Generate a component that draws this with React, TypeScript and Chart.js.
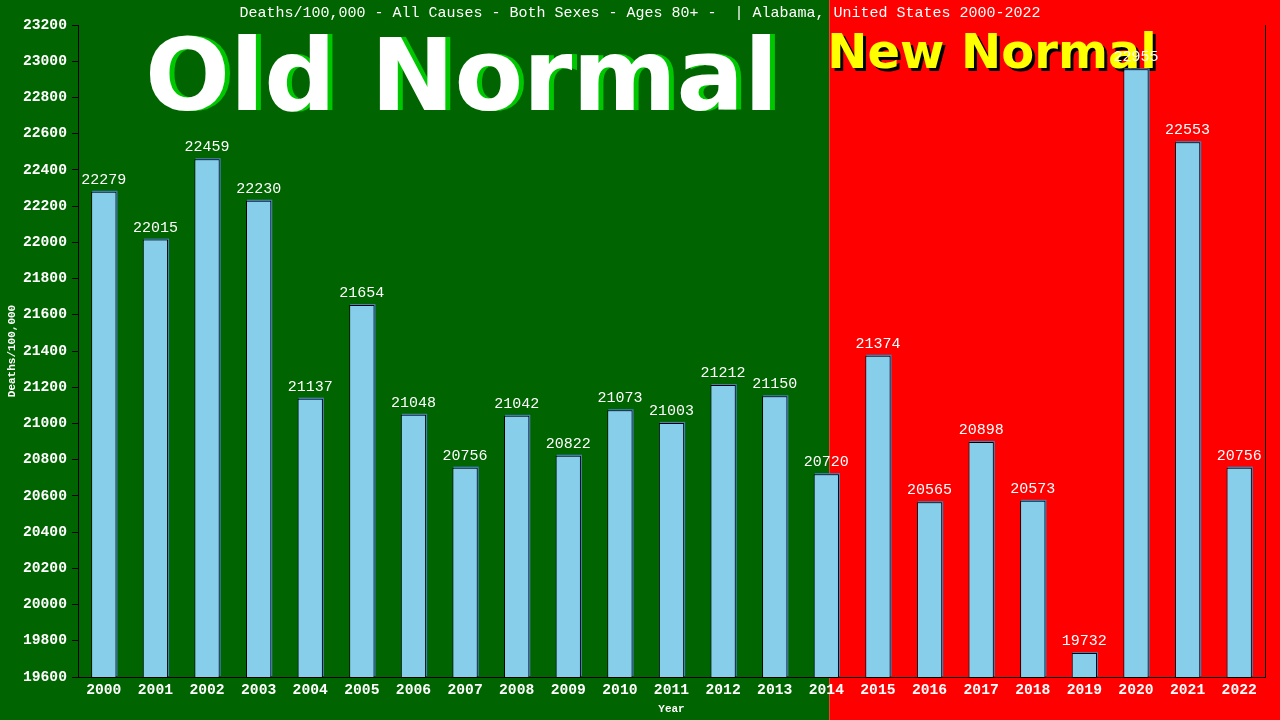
import { useEffect, useRef } from "react";
import { Chart, registerables } from "chart.js";

Chart.register(...registerables);

const years = [
  "2000", "2001", "2002", "2003", "2004", "2005", "2006", "2007", "2008", "2009", "2010", "2011",
  "2012", "2013", "2014", "2015", "2016", "2017", "2018", "2019", "2020", "2021", "2022",
];
const deaths = [
  22279, 22015, 22459, 22230, 21137, 21654, 21048, 20756, 21042, 20822, 21073, 21003,
  21212, 21150, 20720, 21374, 20565, 20898, 20573, 19732, 22955, 22553, 20756,
];
const yMin = 19600;
const yMax = 23200;
const yStep = 200;
const titleText = "Deaths/100,000 - All Causes - Both Sexes - Ages 80+ -  | Alabama, United States 2000-2022";
const yTitle = "Deaths/100,000";
const xTitle = "Year";
const oldLabel = "Old Normal";
const newLabel = "New Normal";
const splitIndex = 14;

const MONO = "'Liberation Mono', 'DejaVu Sans Mono', monospace";
const SANS = "'DejaVu Sans', sans-serif";

function splitX(chart: any): number {
  return chart.scales.x.getPixelForValue(splitIndex) + 3;
}

const decorPlugin = {
  id: "decor",
  beforeDraw(chart: any) {
    const { ctx, width, height } = chart;
    const s = splitX(chart);
    ctx.save();
    ctx.fillStyle = "#006400";
    ctx.fillRect(0, 0, s, height);
    ctx.fillStyle = "#ff0000";
    ctx.fillRect(s, 0, width - s, height);
    ctx.fillStyle = "#ffffff";
    ctx.font = `15px ${MONO}`;
    ctx.textAlign = "center";
    ctx.textBaseline = "middle";
    ctx.fillText(titleText, width / 2, 13);
    ctx.restore();
  },
  beforeDatasetsDraw(chart: any) {
    const { ctx, chartArea } = chart;
    const s = splitX(chart);
    ctx.save();
    // right border of plot
    ctx.strokeStyle = "#000000";
    ctx.lineWidth = 1;
    ctx.beginPath();
    ctx.moveTo(Math.round(chartArea.right) + 0.5, chartArea.top);
    ctx.lineTo(Math.round(chartArea.right) + 0.5, chartArea.bottom);
    ctx.stroke();
    ctx.textAlign = "left";
    ctx.textBaseline = "alphabetic";
    ctx.font = `bold 100px ${SANS}`;
    ctx.fillStyle = "#00c800";
    ctx.fillText(oldLabel, chartArea.left + 72, chartArea.top + 85);
    ctx.fillStyle = "#ffffff";
    ctx.fillText(oldLabel, chartArea.left + 67, chartArea.top + 85);
    ctx.font = `bold 48px ${SANS}`;
    ctx.fillStyle = "#000000";
    ctx.fillText(newLabel, s + 1, chartArea.top + 46);
    ctx.fillStyle = "#ffff00";
    ctx.fillText(newLabel, s - 2, chartArea.top + 43);
    // bar shadows
    const meta = chart.getDatasetMeta(0);
    ctx.fillStyle = "#4682b4";
    meta.data.forEach((bar: any) => {
      const { x, y, width } = bar.getProps(["x", "y", "width"], true);
      const bottom = chartArea.bottom;
      ctx.fillRect(x - width / 2 + 1, y - 1, width, bottom - y);
    });
    ctx.restore();
  },
  afterDatasetsDraw(chart: any) {
    const { ctx } = chart;
    const meta = chart.getDatasetMeta(0);
    ctx.save();
    ctx.fillStyle = "#ffffff";
    ctx.font = `15px ${MONO}`;
    ctx.textAlign = "center";
    ctx.textBaseline = "alphabetic";
    meta.data.forEach((bar: any, i: number) => {
      const { x, y } = bar.getProps(["x", "y"], true);
      ctx.fillText(String(deaths[i]), x, y - 8);
    });
    ctx.restore();
  },
};

export default function App() {
  const ref = useRef<HTMLCanvasElement | null>(null);
  useEffect(() => {
    if (!ref.current) return;
    const chart = new Chart(ref.current, {
      type: "bar",
      data: {
        labels: years,
        datasets: [
          {
            data: deaths,
            backgroundColor: "#87ceeb",
            borderColor: "#000000",
            borderWidth: 1,
            borderSkipped: "bottom",
            barPercentage: 0.49,
            categoryPercentage: 1,
          },
        ],
      },
      options: {
        animation: false,
        responsive: false,
        layout: { padding: { left: 2, right: 15, top: 25, bottom: 0 } },
        plugins: {
          legend: { display: false },
          tooltip: { enabled: false },
          title: { display: false },
        },
        scales: {
          x: {
            grid: { display: false, drawTicks: false },
            border: { color: "#000000", width: 1 },
            ticks: {
              color: "#ffffff",
              font: { family: MONO, size: 14.7, weight: "bold" },
              padding: 4,
              maxRotation: 0,
              autoSkip: false,
            },
            title: {
              display: true,
              text: xTitle,
              color: "#ffffff",
              font: { family: MONO, size: 11, weight: "bold" },
              padding: { top: 0, bottom: 4 },
            },
            afterFit: (s: any) => {
              s.height = 43;
            },
          },
          y: {
            min: yMin,
            max: yMax,
            ticks: {
              stepSize: yStep,
              color: "#ffffff",
              font: { family: MONO, size: 14.7, weight: "bold" },
              padding: 5,
              callback: (v: any) => String(v),
            },
            grid: { drawOnChartArea: false, color: "#000000", tickLength: 6 },
            border: { color: "#000000", width: 1 },
            title: {
              display: true,
              text: yTitle,
              color: "#ffffff",
              font: { family: MONO, size: 11, weight: "bold" },
              padding: { top: 4, bottom: 4 },
            },
            afterFit: (s: any) => {
              s.width = 76;
            },
          },
        },
      },
      plugins: [decorPlugin],
    } as any);
    return () => chart.destroy();
  }, []);
  return (
    <div style={{ position: "fixed", left: 0, top: 0, width: 1280, height: 720 }}>
      <canvas ref={ref} width={1280} height={720} style={{ display: "block", width: 1280, height: 720 }} />
    </div>
  );
}
